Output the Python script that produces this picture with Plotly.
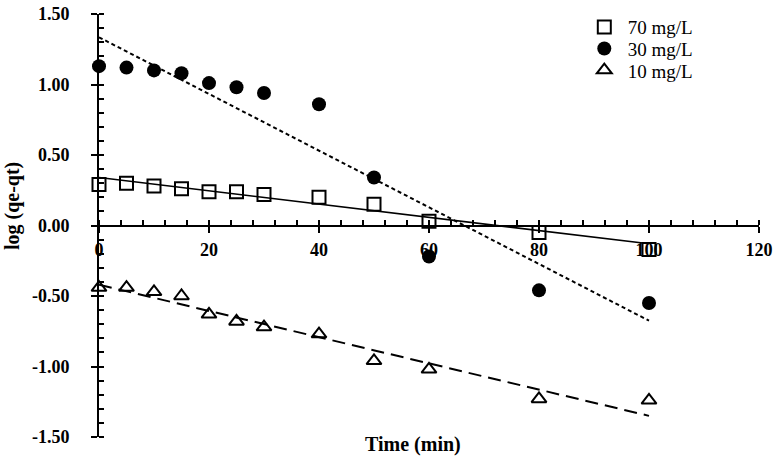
import plotly.graph_objects as go

# ---- data ----
time_min = [0, 5, 10, 15, 20, 25, 30, 40, 50, 60, 80, 100]
log_70 = [0.29, 0.30, 0.28, 0.26, 0.24, 0.24, 0.22, 0.20, 0.15, 0.03, -0.05, -0.17]
log_30 = [1.13, 1.12, 1.10, 1.08, 1.01, 0.98, 0.94, 0.86, 0.34, -0.22, -0.46, -0.55]
log_10 = [-0.44, -0.44, -0.47, -0.50, -0.63, -0.68, -0.72, -0.77, -0.96, -1.02, -1.23, -1.24]

fit_x = [0, 100]
fit_70 = [0.34, -0.13]
fit_30 = [1.335, -0.675]
fit_10 = [-0.42, -1.35]

x_ticks = [0, 20, 40, 60, 80, 100, 120]
x_ticktext = ["0", "20", "40", "60", "80", "100", "120"]
y_ticks = [-1.5, -1.0, -0.5, 0.0, 0.5, 1.0, 1.5]
y_ticktext = ["-1.50", "-1.00", "-0.50", "0.00", "0.50", "1.00", "1.50"]

series_names = ["70 mg/L", "30 mg/L", "10 mg/L"]

FONT = "Liberation Serif"

fig = go.Figure()

# fit lines
fig.add_trace(go.Scatter(x=fit_x, y=fit_70, mode="lines", showlegend=False,
                         line=dict(color="black", width=1.6), hoverinfo="skip"))
fig.add_trace(go.Scatter(x=fit_x, y=fit_30, mode="lines", showlegend=False,
                         line=dict(color="black", width=2, dash="4px,3px"), hoverinfo="skip"))
fig.add_trace(go.Scatter(x=fit_x, y=fit_10, mode="lines", showlegend=False,
                         line=dict(color="black", width=2, dash="13px,7px"), hoverinfo="skip"))

# data points
fig.add_trace(go.Scatter(x=time_min, y=log_70, mode="markers", name=series_names[0],
                         cliponaxis=False, legend="legend",
                         marker=dict(symbol="square-open", size=13, color="black",
                                     line=dict(width=2, color="black"))))
fig.add_trace(go.Scatter(x=time_min, y=log_30, mode="markers", name=series_names[1],
                         cliponaxis=False, legend="legend2",
                         marker=dict(symbol="circle", size=14, color="black")))
fig.add_trace(go.Scatter(x=time_min, y=log_10, mode="markers", name=series_names[2],
                         cliponaxis=False, legend="legend3",
                         marker=dict(symbol="triangle-up-open", size=13, color="black",
                                     line=dict(width=2, color="black"))))

legend_font = dict(family=FONT, size=19, color="black")


def leg(yc):
    return dict(x=0.730, y=yc, xanchor="left", yanchor="middle",
                font=legend_font, itemwidth=37,
                bgcolor="rgba(0,0,0,0)", borderwidth=0)


fig.update_layout(
    width=775, height=458,
    margin=dict(l=99, r=16, t=14, b=21, autoexpand=False),
    paper_bgcolor="white", plot_bgcolor="white",
    font=dict(family=FONT, color="black"),
    showlegend=True,
    legend=leg(0.969),
    legend2=leg(0.918),
    legend3=leg(0.867),
    xaxis=dict(
        range=[0, 120], anchor="free", position=0.5, automargin=False,
        showgrid=False, zeroline=False,
        showline=True, linecolor="black", linewidth=2,
        tickmode="array", tickvals=x_ticks, ticktext=x_ticktext,
        ticks="outside", ticklen=6, tickwidth=1.5, tickcolor="black",
        ticklabelstandoff=2,
        tickfont=dict(family=FONT, size=18, color="black", weight="bold"),
        minor=dict(dtick=4, tick0=0, ticks="inside", ticklen=5, tickwidth=1.5,
                   tickcolor="black", showgrid=False),
    ),
    xaxis2=dict(
        range=[0, 120], overlaying="x", anchor="free", position=0.5, automargin=False,
        showgrid=False, zeroline=False, showline=False,
        tickmode="array", tickvals=x_ticks,
        ticks="inside", ticklen=6, tickwidth=1.5, tickcolor="black",
        showticklabels=False,
    ),
    yaxis=dict(
        range=[-1.5, 1.5], domain=[0, 1], automargin=False,
        showgrid=False, zeroline=False,
        showline=True, linecolor="black", linewidth=2,
        tickmode="array", tickvals=y_ticks, ticktext=y_ticktext,
        ticks="outside", ticklen=6, tickwidth=1.5, tickcolor="black",
        ticklabelstandoff=18,
        tickfont=dict(family=FONT, size=18, color="black", weight="bold"),
        minor=dict(dtick=0.1, tick0=0, ticks="inside", ticklen=5, tickwidth=1.5,
                   tickcolor="black", showgrid=False),
    ),
    yaxis2=dict(
        range=[-1.5, 1.5], overlaying="y", anchor="free", position=0, automargin=False,
        showgrid=False, zeroline=False, showline=False,
        tickmode="array", tickvals=y_ticks,
        ticks="inside", ticklen=6, tickwidth=1.5, tickcolor="black",
        showticklabels=False,
    ),
    annotations=[
        dict(text="<b>Time (min)</b>", xref="paper", yref="paper",
             x=0.476, y=0, xanchor="center", yanchor="middle", yshift=-7,
             showarrow=False, font=dict(family=FONT, size=20, color="black")),
        dict(text="<b>log (qe-qt)</b>", xref="paper", yref="paper",
             x=0, y=0.546, xanchor="center", yanchor="middle", xshift=-87,
             textangle=-90, showarrow=False,
             font=dict(family=FONT, size=20, color="black")),
    ],
)

fig.write_html("out.html",
               config={"displayModeBar": False},
               post_script="document.body.style.margin='0';document.body.style.overflow='hidden';")
